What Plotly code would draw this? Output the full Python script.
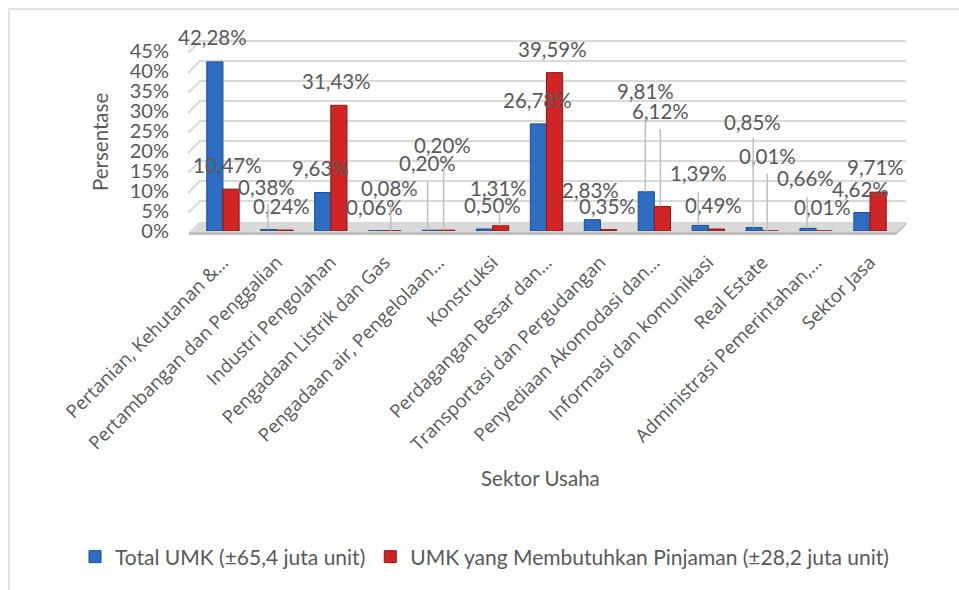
import plotly.graph_objects as go

# ---------------- data ----------------
categories = [
    "Pertanian, Kehutanan &…",
    "Pertambangan dan Penggalian",
    "Industri Pengolahan",
    "Pengadaan Listrik dan Gas",
    "Pengadaan air, Pengelolaan…",
    "Konstruksi",
    "Perdagangan Besar dan…",
    "Transportasi dan Pergudangan",
    "Penyediaan Akomodasi dan…",
    "Informasi dan komunikasi",
    "Real Estate",
    "Administrasi Pemerintahan,…",
    "Sektor Jasa",
]
total_umk = [42.28, 0.38, 9.63, 0.08, 0.20, 0.50, 26.78, 2.83, 9.81, 1.39, 0.85, 0.66, 4.62]
umk_pinjaman = [10.47, 0.24, 31.43, 0.06, 0.20, 1.31, 39.59, 0.35, 6.12, 0.49, 0.01, 0.01, 9.71]
series_names = ["Total UMK (±65,4 juta unit)", "UMK yang Membutuhkan Pinjaman (±28,2 juta unit)"]
y_ticks = [0, 5, 10, 15, 20, 25, 30, 35, 40, 45]
y_ticktext = [f"{t}%" for t in y_ticks]
Y_RANGE = [0, 45]

# ---------------- label placement (pixel offsets from bar top) ----------------
blue_label_off = [(-2, -25), (-2, -42), (-2, -24), (13, -43), (-3, -67), (8, -24), (-1, -24),
                  (-2, -30), (-1, -101), (-2, -52), (-2, -106), (-3, -50), (-2, -24)]
red_label_off = [(-3, -24), (-3, -24), (-2, -24), (-18, -24), (-4, -85), (-2, -38), (-2, -24),
                 (-1, -24), (-2, -96), (-3, -24), (-3, -75), (-2, -24), (-3, -25)]
# leader lines: (series index, category index, x offset px, length px)
leaders = [(0, 1, -1, 27), (1, 3, -2, 29), (0, 4, -3, 50), (1, 4, -3, 65), (1, 5, -1, 16),
           (0, 8, -1, 75), (1, 8, -2, 79), (0, 9, -2, 35), (0, 10, -1, 91), (1, 10, -3, 59),
           (0, 11, -1, 33)]

# ---------------- layout constants ----------------
W, H = 959, 590
ML, MR, MT, MB = 196, 62, 51, 359
PW, PH = W - ML - MR, H - MT - MB
BAR_OFF = 8
GREY = "#595959"
FONT = "Lato"


def px2paper_x(px):
    return (px - ML) / PW


def px2paper_y(py):
    return (H - MB - py) / PH


def val2py(v):
    return H - MB - (v - Y_RANGE[0]) / (Y_RANGE[1] - Y_RANGE[0]) * PH


def fmt(v):
    return f"{v:.2f}".replace(".", ",") + "%"


fig = go.Figure()
fig.add_trace(go.Bar(x=categories, y=total_umk, name=series_names[0],
                     marker=dict(color="#2d6dc2", line=dict(color="#1d4d91", width=1))))
fig.add_trace(go.Bar(x=categories, y=umk_pinjaman, name=series_names[1],
                     marker=dict(color="#d12424", line=dict(color="#8e1414", width=1))))

shapes = []
X_L, X_B, X_R = 188, 200, 906
BACK = 10
# back-wall gridlines with perspective corner
for t in y_ticks[1:]:
    py = val2py(t)
    shapes.append(dict(type="path", xref="paper", yref="paper",
                       path=(f"M {px2paper_x(X_L)},{px2paper_y(py + 2)} "
                             f"L {px2paper_x(X_B)},{px2paper_y(py - BACK)} "
                             f"L {px2paper_x(X_R)},{px2paper_y(py - BACK)}"),
                       line=dict(color="#d9d9d9", width=2), layer="below"))
# floor slab
p0 = val2py(0)
shapes.append(dict(type="path", xref="paper", yref="paper",
                   path=(f"M {px2paper_x(189)},{px2paper_y(p0 + 1)} L {px2paper_x(199)},{px2paper_y(p0 - 9)} "
                         f"L {px2paper_x(X_R)},{px2paper_y(p0 - 9)} L {px2paper_x(X_R - 10)},{px2paper_y(p0 + 1)} Z"),
                   fillcolor="#d9d9d9", line=dict(width=0), layer="below"))
shapes.append(dict(type="path", xref="paper", yref="paper",
                   path=(f"M {px2paper_x(189)},{px2paper_y(p0 + 1)} L {px2paper_x(X_R - 10)},{px2paper_y(p0 + 1)} "
                         f"L {px2paper_x(X_R)},{px2paper_y(p0 - 9)} L {px2paper_x(X_R)},{px2paper_y(p0 - 6)} "
                         f"L {px2paper_x(X_R - 10)},{px2paper_y(p0 + 4)} L {px2paper_x(189)},{px2paper_y(p0 + 4)} Z"),
                   fillcolor="#bfbfbf", line=dict(width=0), layer="below"))
# outer chart border (left and top)
shapes.append(dict(type="path", xref="paper", yref="paper",
                   path=(f"M {px2paper_x(9)},{px2paper_y(H + 5)} L {px2paper_x(9)},{px2paper_y(9)} "
                         f"L {px2paper_x(W + 5)},{px2paper_y(9)}"),
                   line=dict(color="#d9d9d9", width=1.5)))

annotations = []
for s, (vals, offs, sgn) in enumerate([(total_umk, blue_label_off, -1), (umk_pinjaman, red_label_off, 1)]):
    for i, (c, v) in enumerate(zip(categories, vals)):
        dx, dy = offs[i]
        annotations.append(dict(x=c, y=v, xref="x", yref="y", text=fmt(v), showarrow=False,
                                xshift=sgn * BAR_OFF + dx, yshift=-dy,
                                font=dict(family=FONT, size=20.5, color=GREY)))
series_vals = [total_umk, umk_pinjaman]
for s, ci, dx, ln in leaders:
    sgn = -1 if s == 0 else 1
    annotations.append(dict(x=categories[ci], y=series_vals[s][ci], xref="x", yref="y", text="",
                            showarrow=True, arrowhead=0, arrowwidth=1.5, arrowcolor="#bfbfbf",
                            ax=0, ay=-ln, xshift=sgn * BAR_OFF + dx))
annotations.append(dict(x=px2paper_x(86), y=px2paper_y(142), xref="paper", yref="paper",
                        text="Persentase", textangle=-90, showarrow=False,
                        font=dict(family=FONT, size=20.5, color=GREY)))
annotations.append(dict(x=px2paper_x(540), y=px2paper_y(492), xref="paper", yref="paper",
                        text="Sektor Usaha", showarrow=False,
                        font=dict(family=FONT, size=20.5, color=GREY)))

fig.update_layout(
    width=W, height=H,
    margin=dict(l=ML, r=MR, t=MT, b=MB),
    paper_bgcolor="white", plot_bgcolor="white",
    barmode="group", bargap=0.4, bargroupgap=0,
    shapes=shapes, annotations=annotations,
    showlegend=True,
    legend=dict(orientation="h", xref="paper", yref="paper",
                x=px2paper_x(75), xanchor="left", y=px2paper_y(557), yanchor="middle",
                font=dict(family=FONT, size=21, color=GREY), itemwidth=30),
    xaxis=dict(tickangle=-45, tickfont=dict(family="Open Sans", size=18.5, color=GREY),
               showgrid=False, showline=False, zeroline=False, ticks="",
               ticklabelstandoff=16, range=[-0.5, len(categories) - 0.5]),
    yaxis=dict(range=Y_RANGE, tickvals=y_ticks, ticktext=y_ticktext, showgrid=False,
               zeroline=False, showline=False, ticks="", ticklabelstandoff=26,
               tickfont=dict(family=FONT, size=20, color=GREY)),
)

fig.write_html("out.html", config={"displayModeBar": False},
               post_script="document.body.style.margin='0px';")
